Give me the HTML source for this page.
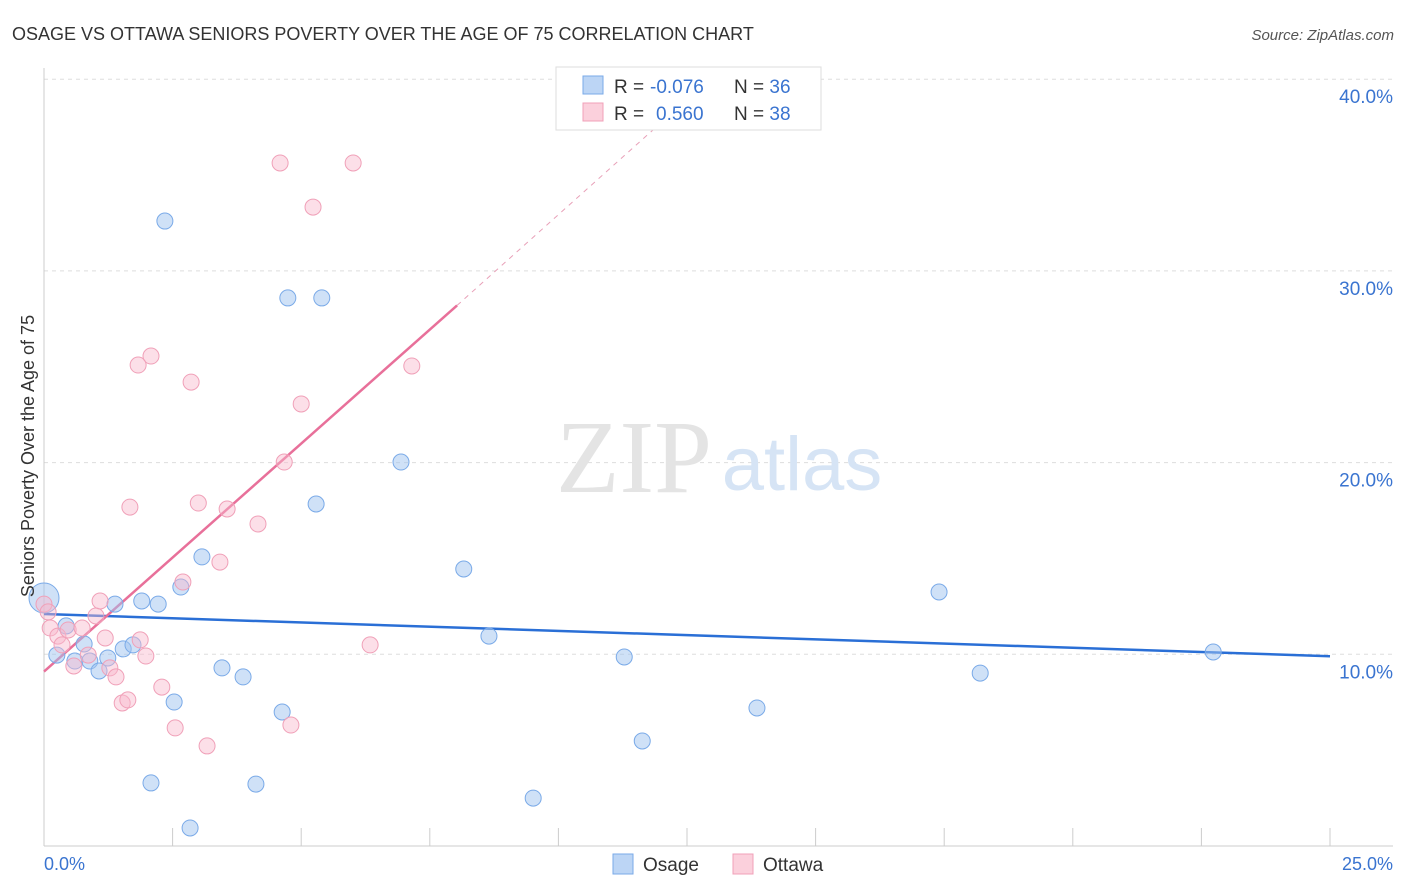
<!DOCTYPE html>
<html><head><meta charset="utf-8"><style>
body{margin:0;background:#fff;font-family:"Liberation Sans",sans-serif;}
svg{display:block}
</style></head><body>
<svg width="1406" height="892">
<text x="12" y="40" font-size="18" fill="#333">OSAGE VS OTTAWA SENIORS POVERTY OVER THE AGE OF 75 CORRELATION CHART</text>
<text x="1394" y="40" font-size="15" fill="#555" font-style="italic" text-anchor="end">Source: ZipAtlas.com</text>
<g id="grid"></g>
<text x="634" y="492" font-size="104" fill="#e4e4e4" font-family="Liberation Serif,serif" text-anchor="middle">ZIP</text>
<text x="802" y="490" font-size="76" fill="#d6e4f5" text-anchor="middle">atlas</text>
<g id="lines"></g>
<g id="points"></g>
<text transform="translate(34,456) rotate(-90)" font-size="18" fill="#333" text-anchor="middle">Seniors Poverty Over the Age of 75</text>
<text x="44" y="870" font-size="18" fill="#3a74d0">0.0%</text>
<text x="1393" y="870" font-size="18" fill="#3a74d0" text-anchor="end">25.0%</text>
<g>
<rect x="556" y="67" width="265" height="63" fill="#fff" stroke="#ddd"/>
<rect x="583" y="76" width="20" height="18" fill="#bcd5f5" stroke="#7aaae8"/>
<rect x="583" y="103" width="20" height="18" fill="#fbd0dc" stroke="#f0a0b8"/>
<text x="614" y="93" font-size="19" fill="#333">R = <tspan fill="#3a74d0" x="650">-0.076</tspan><tspan x="734">N = </tspan><tspan fill="#3a74d0">36</tspan></text>
<text x="614" y="120" font-size="19" fill="#333">R = <tspan fill="#3a74d0" x="656">0.560</tspan><tspan x="734">N = </tspan><tspan fill="#3a74d0">38</tspan></text>
</g>
<g>
<rect x="613" y="854" width="20" height="20" fill="#bcd5f5" stroke="#7aaae8"/>
<text x="643" y="871" font-size="19" fill="#333">Osage</text>
<rect x="733" y="854" width="20" height="20" fill="#fbd0dc" stroke="#f0a0b8"/>
<text x="763" y="871" font-size="19" fill="#333">Ottawa</text>
</g>
</svg>
<script>
const yTicks=[10,20,30,40];
const yTickLabels=["10.0%","20.0%","30.0%","40.0%"];
const xTicks=[0,2.5,5,7.5,10,12.5,15,17.5,20,22.5,25];
const osageX=[0,0.25,0.43,0.60,0.78,0.89,1.07,1.24,1.38,1.54,1.73,1.90,2.08,2.22,2.35,2.53,2.66,2.84,3.07,3.46,3.87,4.12,4.63,4.74,5.29,5.40,6.94,8.16,8.65,9.51,11.28,11.63,13.86,17.40,18.20,22.73];
const osageY=[12.94,9.96,11.48,9.65,10.54,9.65,9.13,9.81,12.62,10.28,10.49,12.78,3.29,12.62,32.60,7.51,13.51,0.94,15.08,9.29,8.82,3.23,6.99,28.59,17.84,28.59,20.03,14.45,10.95,2.50,9.86,5.48,7.20,13.25,9.02,10.12];
const ottawaX=[0,0.08,0.12,0.27,0.35,0.47,0.58,0.74,0.86,1.01,1.09,1.19,1.28,1.40,1.52,1.63,1.67,1.83,1.87,1.98,2.08,2.29,2.55,2.70,2.86,3.00,3.17,3.42,3.56,4.16,4.59,4.67,4.80,5.00,5.23,6.01,6.34,7.15];
const ottawaY=[12.62,12.21,11.37,10.95,10.49,11.27,9.39,11.37,9.96,12.00,12.78,10.85,9.29,8.82,7.46,7.62,17.68,25.09,10.75,9.91,25.56,8.29,6.16,13.77,24.20,17.89,5.22,14.81,17.58,16.80,35.63,20.03,6.31,23.06,33.33,35.63,10.49,25.04];
const osageTrend=[[0,12.1],[25,9.9]];
const ottawaTrend=[[0,9.1],[8.03,28.2]];
const ottawaTrendExt=[[8.03,28.2],[11.9,37.5]];
const sx=v=>44+v*51.44, sy=v=>846-v*19.17;
const NS="http://www.w3.org/2000/svg";
function mk(tag,attrs,parent){const e=document.createElementNS(NS,tag);for(const k in attrs)e.setAttribute(k,attrs[k]);document.getElementById(parent).appendChild(e);return e;}
yTicks.forEach((t,i)=>{
 const l=mk('line',{x1:44,x2:1393,y1:sy(t),y2:sy(t),stroke:'#ddd','stroke-dasharray':'4,4'},'grid');
 
 
 const tx=mk('text',{x:1393,y:sy(t)+24,'font-size':19,fill:'#3a74d0','text-anchor':'end'},'grid');
 tx.textContent=yTickLabels[i];
 
 
});
const ax=mk('line',{x1:44,x2:44,y1:68,y2:846,stroke:'#ccc'},'grid');


const bx=mk('line',{x1:44,x2:1393,y1:846,y2:846,stroke:'#ccc'},'grid');


xTicks.forEach(t=>{
 const l=mk('line',{x1:sx(t),x2:sx(t),y1:828,y2:846,stroke:'#ccc'},'grid');
 
 
});
function line(p,attrs,name){const l=mk('line',Object.assign({x1:sx(p[0][0]),y1:sy(p[0][1]),x2:sx(p[1][0]),y2:sy(p[1][1])},attrs),'lines');
 
 }
osageX.forEach((x,i)=>{
 const c=mk('circle',{cx:sx(x),cy:sy(osageY[i]),r:i==0?15:8,fill:'rgba(160,196,240,0.5)',stroke:'#7aaae8','stroke-width':1},'points');
 
 
});
ottawaX.forEach((x,i)=>{
 const c=mk('circle',{cx:sx(x),cy:sy(ottawaY[i]),r:8,fill:'rgba(248,184,204,0.45)',stroke:'#f0a0b8','stroke-width':1},'points');
 
 
});
line(osageTrend,{stroke:'#2a6fd6','stroke-width':2.5},'osage-trendline');
line(ottawaTrend,{stroke:'#e8709a','stroke-width':2.5},'ottawa-trendline');
line(ottawaTrendExt,{stroke:'#e8a0b8','stroke-width':1,'stroke-dasharray':'5,5'},'ottawa-trendline-extension');
</script>
</body></html>
